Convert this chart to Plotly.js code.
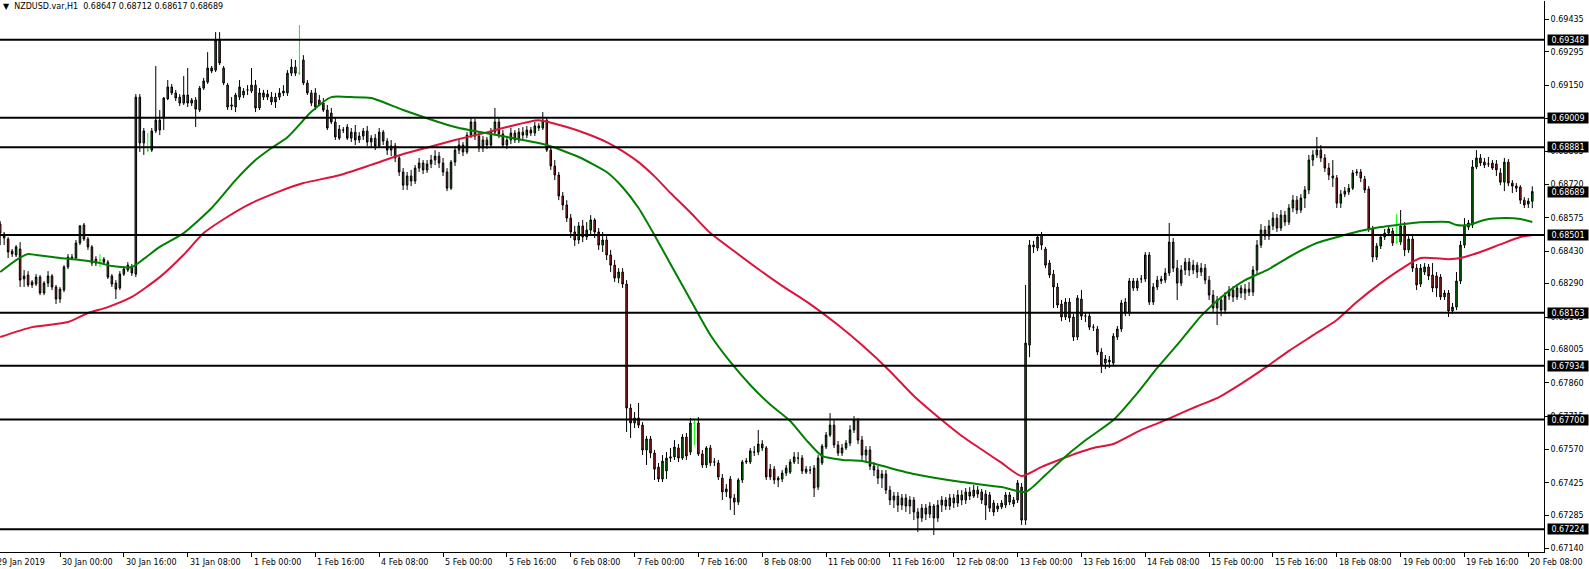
<!DOCTYPE html>
<html><head><meta charset="utf-8">
<script src="https://cdn.plot.ly/plotly-3.0.1.min.js"></script>
<style>html,body{margin:0;padding:0;background:#fff;}#chart{width:1589px;height:569px;}</style>
</head><body><div id="chart"></div>
<script>
// NZDUSD H1 bars, index 0 = 29 Jan 2019 09:00 (weekend hours skipped)
const openP = [
0.68548,0.68505,0.68483,0.68431,0.68414,0.68440,0.68310,0.68327,0.68297,0.68288,
0.68318,0.68249,0.68292,0.68323,0.68275,0.68223,0.68262,0.68362,0.68405,0.68401,
0.68466,0.68544,0.68483,0.68449,0.68396,0.68392,0.68396,0.68383,0.68323,0.68292,
0.68271,0.68331,0.68349,0.68362,0.68331,0.69099,0.68900,0.68869,0.68869,0.68952,
0.68956,0.69008,0.69091,0.69143,0.69117,0.69099,0.69073,0.69108,0.69086,0.69086,
0.69043,0.69138,0.69164,0.69212,0.69216,0.69346,0.69225,0.69151,0.69065,0.69056,
0.69099,0.69108,0.69130,0.69125,0.69151,0.69052,0.69099,0.69099,0.69099,0.69099,
0.69099,0.69117,0.69117,0.69203,0.69229,0.69203,0.69260,0.69160,0.69117,0.69117,
0.69086,0.69073,0.69043,0.69030,0.68991,0.68960,0.68956,0.68969,0.68921,0.68947,
0.68913,0.68930,0.68952,0.68904,0.68921,0.68887,0.68947,0.68908,0.68869,0.68887,
0.68835,0.68774,0.68717,0.68757,0.68735,0.68791,0.68813,0.68783,0.68809,0.68826,
0.68843,0.68813,0.68774,0.68704,0.68817,0.68869,0.68891,0.68861,0.68934,0.68991,
0.68930,0.68878,0.68913,0.68891,0.68947,0.68991,0.68939,0.68891,0.68913,0.68943,
0.68913,0.68947,0.68934,0.68956,0.68943,0.68974,0.68965,0.68999,0.68869,0.68800,
0.68761,0.68670,0.68631,0.68574,0.68514,0.68479,0.68540,0.68492,0.68522,0.68566,
0.68514,0.68457,0.68479,0.68414,0.68370,0.68314,0.68340,0.68288,0.67750,0.67685,
0.67707,0.67676,0.67568,0.67616,0.67555,0.67494,0.67442,0.67477,0.67533,0.67538,
0.67577,0.67533,0.67624,0.67559,0.67685,0.67685,0.67551,0.67503,0.67577,0.67516,
0.67512,0.67446,0.67386,0.67442,0.67360,0.67342,0.67438,0.67516,0.67516,0.67559,
0.67559,0.67594,0.67577,0.67485,0.67485,0.67446,0.67442,0.67468,0.67472,0.67516,
0.67533,0.67533,0.67472,0.67481,0.67490,0.67407,0.67512,0.67581,0.67633,0.67676,
0.67590,0.67555,0.67577,0.67598,0.67655,0.67698,0.67611,0.67546,0.67568,0.67498,
0.67481,0.67446,0.67464,0.67394,0.67351,0.67368,0.67329,0.67360,0.67325,0.67351,
0.67299,0.67273,0.67316,0.67290,0.67325,0.67273,0.67329,0.67351,0.67325,0.67360,
0.67338,0.67373,0.67351,0.67386,0.67368,0.67394,0.67386,0.67377,0.67373,0.67338,
0.67312,0.67321,0.67329,0.67342,0.67351,0.67351,0.67407,0.67264,0.68023,0.68457,
0.68444,0.68501,0.68440,0.68379,0.68331,0.68275,0.68201,0.68145,0.68210,0.68145,
0.68058,0.68223,0.68149,0.68149,0.68101,0.68093,0.67993,0.67945,0.67950,0.67945,
0.68058,0.68093,0.68210,0.68162,0.68271,0.68301,0.68310,0.68310,0.68414,0.68210,
0.68275,0.68301,0.68305,0.68336,0.68470,0.68357,0.68292,0.68349,0.68383,0.68349,
0.68370,0.68340,0.68357,0.68305,0.68240,0.68184,0.68219,0.68175,0.68236,0.68262,
0.68232,0.68271,0.68249,0.68266,0.68253,0.68349,0.68457,0.68522,0.68496,0.68540,
0.68574,0.68531,0.68587,0.68557,0.68618,0.68652,0.68609,0.68661,0.68696,0.68826,
0.68848,0.68869,0.68835,0.68791,0.68757,0.68748,0.68639,0.68678,0.68687,0.68704,
0.68770,0.68774,0.68743,0.68700,0.68527,0.68405,0.68453,0.68492,0.68509,0.68518,
0.68470,0.68470,0.68540,0.68436,0.68483,0.68357,0.68288,0.68340,0.68362,0.68327,
0.68323,0.68318,0.68232,0.68249,0.68171,0.68188,0.68301,0.68457,0.68535,0.68544,
0.68796,0.68835,0.68817,0.68809,0.68813,0.68809,0.68770,0.68730,0.68817,0.68726,
0.68713,0.68709,0.68652,0.68635,0.68647];
const highP = [
0.68561,0.68514,0.68492,0.68440,0.68457,0.68470,0.68349,0.68344,0.68305,0.68331,
0.68327,0.68301,0.68344,0.68331,0.68284,0.68275,0.68370,0.68418,0.68418,0.68479,
0.68544,0.68553,0.68492,0.68457,0.68409,0.68418,0.68405,0.68392,0.68331,0.68305,
0.68344,0.68366,0.68383,0.68375,0.69112,0.69112,0.68965,0.68943,0.68965,0.69234,
0.69043,0.69099,0.69173,0.69156,0.69130,0.69112,0.69190,0.69225,0.69095,0.69099,
0.69147,0.69182,0.69294,0.69234,0.69381,0.69381,0.69234,0.69160,0.69099,0.69117,
0.69173,0.69138,0.69151,0.69225,0.69173,0.69138,0.69130,0.69130,0.69121,0.69117,
0.69138,0.69151,0.69216,0.69264,0.69260,0.69412,0.69281,0.69173,0.69130,0.69138,
0.69108,0.69095,0.69065,0.69052,0.69008,0.68978,0.68969,0.68982,0.68965,0.68978,
0.68947,0.68965,0.68974,0.68934,0.68939,0.68965,0.68956,0.68921,0.68913,0.68900,
0.68848,0.68791,0.68774,0.68783,0.68804,0.68835,0.68826,0.68826,0.68848,0.68869,
0.68861,0.68835,0.68791,0.68826,0.68887,0.68913,0.68904,0.68947,0.69008,0.69004,
0.68947,0.68930,0.68926,0.68965,0.69052,0.69008,0.68956,0.68930,0.68965,0.68956,
0.68965,0.68969,0.68974,0.68969,0.68991,0.68986,0.69034,0.69008,0.68887,0.68826,
0.68774,0.68687,0.68652,0.68592,0.68540,0.68557,0.68566,0.68557,0.68587,0.68574,
0.68531,0.68514,0.68496,0.68436,0.68392,0.68357,0.68357,0.68305,0.67768,0.67733,
0.67772,0.67689,0.67629,0.67629,0.67568,0.67512,0.67546,0.67559,0.67577,0.67611,
0.67594,0.67637,0.67642,0.67707,0.67698,0.67711,0.67568,0.67585,0.67590,0.67533,
0.67525,0.67464,0.67420,0.67455,0.67377,0.67446,0.67525,0.67533,0.67577,0.67585,
0.67655,0.67611,0.67585,0.67507,0.67498,0.67455,0.67481,0.67503,0.67529,0.67559,
0.67559,0.67546,0.67498,0.67498,0.67503,0.67546,0.67594,0.67646,0.67728,0.67698,
0.67607,0.67594,0.67611,0.67676,0.67715,0.67707,0.67629,0.67585,0.67585,0.67516,
0.67498,0.67481,0.67481,0.67412,0.67386,0.67386,0.67377,0.67377,0.67368,0.67364,
0.67316,0.67334,0.67334,0.67342,0.67334,0.67351,0.67368,0.67364,0.67377,0.67377,
0.67394,0.67394,0.67403,0.67407,0.67416,0.67412,0.67399,0.67394,0.67386,0.67351,
0.67338,0.67351,0.67386,0.67386,0.67364,0.67438,0.67425,0.68284,0.68479,0.68475,
0.68505,0.68514,0.68449,0.68392,0.68349,0.68292,0.68219,0.68227,0.68227,0.68158,
0.68240,0.68262,0.68167,0.68162,0.68114,0.68106,0.68010,0.67980,0.67976,0.68075,
0.68106,0.68219,0.68227,0.68314,0.68314,0.68314,0.68327,0.68427,0.68427,0.68292,
0.68323,0.68323,0.68357,0.68553,0.68488,0.68392,0.68370,0.68401,0.68401,0.68392,
0.68383,0.68379,0.68375,0.68323,0.68262,0.68236,0.68236,0.68253,0.68279,0.68279,
0.68288,0.68284,0.68288,0.68297,0.68366,0.68479,0.68548,0.68540,0.68566,0.68600,
0.68592,0.68609,0.68605,0.68635,0.68674,0.68670,0.68678,0.68713,0.68848,0.68869,
0.68926,0.68891,0.68852,0.68813,0.68826,0.68761,0.68696,0.68709,0.68722,0.68783,
0.68787,0.68787,0.68757,0.68713,0.68540,0.68466,0.68505,0.68527,0.68540,0.68531,
0.68592,0.68609,0.68557,0.68496,0.68496,0.68375,0.68375,0.68379,0.68375,0.68379,
0.68340,0.68331,0.68262,0.68262,0.68206,0.68340,0.68475,0.68574,0.68566,0.68826,
0.68869,0.68852,0.68835,0.68839,0.68826,0.68826,0.68791,0.68835,0.68830,0.68739,
0.68726,0.68717,0.68665,0.68661,0.68712];
const lowP = [
0.68457,0.68457,0.68401,0.68405,0.68405,0.68275,0.68275,0.68275,0.68271,0.68279,
0.68240,0.68240,0.68275,0.68262,0.68201,0.68206,0.68253,0.68353,0.68392,0.68396,
0.68457,0.68475,0.68436,0.68366,0.68366,0.68362,0.68370,0.68310,0.68275,0.68223,
0.68262,0.68323,0.68340,0.68323,0.68318,0.68861,0.68848,0.68861,0.68861,0.68943,
0.68934,0.68956,0.69086,0.69108,0.69082,0.69060,0.69065,0.69056,0.69060,0.68969,
0.69034,0.69130,0.69156,0.69203,0.69208,0.69238,0.69151,0.69043,0.69043,0.69034,
0.69086,0.69095,0.69108,0.69117,0.69034,0.69043,0.69086,0.69086,0.69065,0.69052,
0.69086,0.69104,0.69104,0.69190,0.69190,0.69195,0.69151,0.69108,0.69060,0.69043,
0.69060,0.69034,0.68956,0.68982,0.68913,0.68913,0.68943,0.68913,0.68904,0.68891,
0.68900,0.68913,0.68887,0.68878,0.68869,0.68878,0.68891,0.68848,0.68843,0.68817,
0.68757,0.68696,0.68696,0.68713,0.68722,0.68774,0.68765,0.68770,0.68791,0.68804,
0.68791,0.68757,0.68691,0.68696,0.68800,0.68852,0.68843,0.68852,0.68921,0.68913,
0.68861,0.68861,0.68874,0.68878,0.68934,0.68921,0.68878,0.68874,0.68895,0.68900,
0.68900,0.68917,0.68921,0.68930,0.68930,0.68952,0.68956,0.68861,0.68783,0.68739,
0.68652,0.68609,0.68557,0.68488,0.68453,0.68462,0.68470,0.68479,0.68501,0.68488,
0.68436,0.68427,0.68392,0.68340,0.68297,0.68292,0.68271,0.67646,0.67620,0.67663,
0.67663,0.67546,0.67503,0.67533,0.67438,0.67429,0.67429,0.67442,0.67516,0.67525,
0.67516,0.67525,0.67525,0.67546,0.67590,0.67542,0.67490,0.67490,0.67498,0.67498,
0.67438,0.67351,0.67364,0.67308,0.67286,0.67329,0.67425,0.67507,0.67507,0.67542,
0.67546,0.67564,0.67438,0.67438,0.67420,0.67407,0.67429,0.67455,0.67464,0.67507,
0.67507,0.67464,0.67464,0.67464,0.67364,0.67394,0.67503,0.67572,0.67624,0.67577,
0.67542,0.67542,0.67568,0.67585,0.67642,0.67594,0.67525,0.67516,0.67481,0.67455,
0.67420,0.67403,0.67377,0.67329,0.67316,0.67299,0.67308,0.67299,0.67290,0.67264,
0.67212,0.67256,0.67264,0.67273,0.67199,0.67256,0.67299,0.67308,0.67308,0.67316,
0.67321,0.67329,0.67334,0.67351,0.67360,0.67360,0.67334,0.67264,0.67299,0.67282,
0.67299,0.67312,0.67316,0.67329,0.67321,0.67338,0.67243,0.67243,0.67971,0.68423,
0.68431,0.68436,0.68357,0.68314,0.68184,0.68184,0.68127,0.68132,0.68123,0.68041,
0.68045,0.68132,0.68123,0.68088,0.68084,0.67980,0.67902,0.67919,0.67924,0.67932,
0.68045,0.68080,0.68149,0.68149,0.68258,0.68258,0.68292,0.68297,0.68197,0.68197,
0.68262,0.68288,0.68292,0.68323,0.68340,0.68219,0.68279,0.68327,0.68323,0.68331,
0.68314,0.68323,0.68288,0.68219,0.68167,0.68110,0.68149,0.68158,0.68219,0.68210,
0.68219,0.68227,0.68219,0.68236,0.68236,0.68331,0.68444,0.68479,0.68479,0.68522,
0.68514,0.68518,0.68540,0.68544,0.68600,0.68592,0.68596,0.68618,0.68678,0.68800,
0.68835,0.68817,0.68774,0.68739,0.68709,0.68618,0.68618,0.68665,0.68674,0.68696,
0.68757,0.68730,0.68683,0.68514,0.68383,0.68392,0.68440,0.68479,0.68496,0.68453,
0.68462,0.68457,0.68409,0.68423,0.68340,0.68262,0.68275,0.68327,0.68305,0.68253,
0.68232,0.68219,0.68219,0.68145,0.68158,0.68175,0.68288,0.68444,0.68522,0.68531,
0.68787,0.68800,0.68791,0.68796,0.68783,0.68757,0.68717,0.68691,0.68713,0.68683,
0.68687,0.68635,0.68618,0.68618,0.68617];
const closeP = [
0.68509,0.68488,0.68427,0.68418,0.68449,0.68305,0.68323,0.68284,0.68284,0.68318,
0.68249,0.68292,0.68323,0.68275,0.68223,0.68266,0.68362,0.68405,0.68401,0.68466,
0.68540,0.68483,0.68449,0.68379,0.68379,0.68392,0.68383,0.68318,0.68288,0.68266,
0.68331,0.68353,0.68370,0.68336,0.69099,0.68900,0.68952,0.68869,0.68952,0.68999,
0.68999,0.69095,0.69143,0.69117,0.69095,0.69073,0.69108,0.69073,0.69073,0.69047,
0.69138,0.69169,0.69225,0.69225,0.69346,0.69247,0.69160,0.69056,0.69060,0.69108,
0.69143,0.69125,0.69130,0.69151,0.69052,0.69117,0.69117,0.69112,0.69078,0.69078,
0.69117,0.69125,0.69203,0.69229,0.69203,0.69203,0.69160,0.69117,0.69073,0.69056,
0.69065,0.69043,0.68965,0.68991,0.68926,0.68921,0.68956,0.68921,0.68947,0.68913,
0.68930,0.68952,0.68904,0.68921,0.68887,0.68947,0.68908,0.68869,0.68887,0.68835,
0.68774,0.68717,0.68757,0.68735,0.68791,0.68813,0.68783,0.68809,0.68826,0.68843,
0.68813,0.68774,0.68704,0.68817,0.68869,0.68891,0.68861,0.68934,0.68991,0.68930,
0.68878,0.68913,0.68891,0.68947,0.68991,0.68939,0.68891,0.68913,0.68943,0.68913,
0.68947,0.68934,0.68956,0.68943,0.68974,0.68965,0.68999,0.68869,0.68800,0.68761,
0.68670,0.68631,0.68574,0.68514,0.68479,0.68540,0.68492,0.68522,0.68566,0.68514,
0.68457,0.68479,0.68414,0.68370,0.68314,0.68340,0.68288,0.67750,0.67685,0.67707,
0.67676,0.67568,0.67616,0.67555,0.67485,0.67442,0.67520,0.67533,0.67538,0.67581,
0.67533,0.67624,0.67542,0.67685,0.67685,0.67551,0.67503,0.67577,0.67512,0.67516,
0.67451,0.67386,0.67399,0.67360,0.67342,0.67438,0.67516,0.67520,0.67564,0.67559,
0.67594,0.67577,0.67451,0.67451,0.67438,0.67438,0.67468,0.67490,0.67516,0.67538,
0.67533,0.67477,0.67485,0.67481,0.67403,0.67533,0.67585,0.67633,0.67676,0.67590,
0.67555,0.67577,0.67598,0.67655,0.67698,0.67611,0.67546,0.67568,0.67498,0.67481,
0.67446,0.67464,0.67394,0.67351,0.67368,0.67329,0.67360,0.67325,0.67351,0.67299,
0.67273,0.67316,0.67290,0.67325,0.67273,0.67329,0.67351,0.67325,0.67360,0.67338,
0.67373,0.67351,0.67386,0.67368,0.67394,0.67377,0.67351,0.67329,0.67316,0.67299,
0.67325,0.67338,0.67373,0.67373,0.67334,0.67425,0.67264,0.68032,0.68457,0.68449,
0.68492,0.68457,0.68370,0.68327,0.68275,0.68197,0.68145,0.68210,0.68141,0.68058,
0.68227,0.68149,0.68149,0.68101,0.68101,0.67993,0.67937,0.67963,0.67958,0.68062,
0.68093,0.68206,0.68162,0.68301,0.68301,0.68271,0.68310,0.68414,0.68210,0.68275,
0.68305,0.68310,0.68336,0.68470,0.68357,0.68292,0.68349,0.68383,0.68349,0.68370,
0.68340,0.68357,0.68305,0.68240,0.68184,0.68219,0.68175,0.68236,0.68262,0.68232,
0.68271,0.68249,0.68266,0.68253,0.68349,0.68457,0.68522,0.68496,0.68540,0.68574,
0.68531,0.68587,0.68557,0.68618,0.68652,0.68609,0.68661,0.68696,0.68826,0.68848,
0.68869,0.68835,0.68791,0.68761,0.68748,0.68639,0.68678,0.68691,0.68704,0.68770,
0.68774,0.68748,0.68696,0.68527,0.68405,0.68453,0.68492,0.68509,0.68527,0.68466,
0.68470,0.68540,0.68436,0.68483,0.68357,0.68284,0.68357,0.68362,0.68323,0.68271,
0.68271,0.68232,0.68249,0.68171,0.68188,0.68301,0.68457,0.68544,0.68553,0.68796,
0.68835,0.68813,0.68804,0.68809,0.68791,0.68783,0.68730,0.68817,0.68726,0.68713,
0.68704,0.68652,0.68631,0.68648,0.68689];
// bars drawn as lime dojis
const limeBars = [25, 37, 75, 174, 350];

// moving averages (bar index, price)
const maGreenIdx = [0,4,7,9,15,20,25,28,33,36,40,46,53,59,64,68,72,78,83,88,93,101,114,127,137,145,152,156,160,164,168,173,178,183,188,193,198,202,206,211,216,229,241,251,257,262,266,272,279,285,290,296,301,307,312,318,324,330,336,342,346,350,354,358,363,365,368,372,377,381,384];
const maGreenVal = [0.68340,0.68392,0.68418,0.68414,0.68401,0.68392,0.68379,0.68366,0.68362,0.68397,0.68449,0.68509,0.68618,0.68739,0.68826,0.68878,0.68925,0.69035,0.69099,0.69099,0.69095,0.69043,0.68969,0.68926,0.68891,0.68839,0.68774,0.68708,0.68618,0.68500,0.68375,0.68220,0.68067,0.67950,0.67850,0.67765,0.67694,0.67612,0.67542,0.67525,0.67520,0.67464,0.67429,0.67407,0.67386,0.67460,0.67525,0.67610,0.67698,0.67815,0.67924,0.68045,0.68150,0.68245,0.68305,0.68353,0.68415,0.68466,0.68496,0.68522,0.68535,0.68544,0.68553,0.68557,0.68557,0.68544,0.68544,0.68566,0.68574,0.68570,0.68557];
const maRedIdx = [0,8,17,22,27,33,40,46,51,57,63,70,76,85,93,101,108,114,121,127,135,142,147,152,156,160,164,168,173,178,184,190,196,203,210,216,223,229,235,241,246,251,256,261,266,270,274,279,286,291,296,300,305,311,317,323,329,335,340,346,351,356,363,366,371,376,381,384];
const maRedVal = [0.68058,0.68101,0.68123,0.68162,0.68188,0.68232,0.68318,0.68415,0.68509,0.68580,0.68639,0.68690,0.68726,0.68760,0.68805,0.68852,0.68885,0.68913,0.68942,0.68969,0.68999,0.68969,0.68940,0.68904,0.68865,0.68817,0.68755,0.68683,0.68598,0.68509,0.68430,0.68353,0.68280,0.68201,0.68110,0.68023,0.67910,0.67802,0.67712,0.67629,0.67570,0.67512,0.67455,0.67495,0.67529,0.67555,0.67577,0.67594,0.67655,0.67690,0.67728,0.67758,0.67793,0.67855,0.67924,0.67998,0.68065,0.68132,0.68210,0.68292,0.68352,0.68401,0.68396,0.68401,0.68427,0.68460,0.68492,0.68501];

// horizontal levels and labels
const levels = [0.69348, 0.69009, 0.68881, 0.68501, 0.68163, 0.67934, 0.67700, 0.67224];
const lastPrice = 0.68689;
const yTicks = [0.69435,0.69295,0.69150,0.69005,0.68865,0.68720,0.68575,0.68430,0.68290,0.68145,0.68005,0.67860,0.67715,0.67570,0.67425,0.67285,0.67140];
const xTickIdx = [15,31,47,63,79,95,111,127,143,159,175,191,207,223,239,255,271,287,303,319,335,351,367,383];
const xTickText = ['30 Jan 00:00','30 Jan 16:00','31 Jan 08:00','1 Feb 00:00','1 Feb 16:00','4 Feb 08:00','5 Feb 00:00','5 Feb 16:00','6 Feb 08:00','7 Feb 00:00','7 Feb 16:00','8 Feb 08:00','11 Feb 00:00','11 Feb 16:00','12 Feb 08:00','13 Feb 00:00','13 Feb 16:00','14 Feb 08:00','15 Feb 00:00','15 Feb 16:00','18 Feb 08:00','19 Feb 00:00','19 Feb 16:00','20 Feb 08:00'];
const firstLabel = '29 Jan 2019';
const header = 'NZDUSD.var,H1\u00a0\u00a00.68647 0.68712 0.68617 0.68689';

const FONT = 'DejaVu Sans';
const limeSet = new Set(limeBars);
const mainI = [], limeI = [];
for (let i = 0; i < closeP.length; i++) (limeSet.has(i) ? limeI : mainI).push(i);
const pick = (arr, ids) => ids.map(i => arr[i]);

const traces = [
  {type:'candlestick', x: mainI, open: pick(openP, mainI), high: pick(highP, mainI), low: pick(lowP, mainI), close: pick(closeP, mainI),
   increasing:{line:{color:'#000', width:1}, fillcolor:'#008000'},
   decreasing:{line:{color:'#000', width:1}, fillcolor:'#b22222'},
   whiskerwidth:0, hoverinfo:'skip', showlegend:false},
  {type:'candlestick', x: limeI, open: pick(openP, limeI), high: pick(highP, limeI), low: pick(lowP, limeI), close: pick(closeP, limeI),
   increasing:{line:{color:'#00ff00', width:1}, fillcolor:'#00ff00'},
   decreasing:{line:{color:'#00ff00', width:1}, fillcolor:'#00ff00'},
   whiskerwidth:0, hoverinfo:'skip', showlegend:false},
  {type:'scatter', mode:'lines', x: maRedIdx, y: maRedVal, line:{color:'#dc143c', width:2, shape:'spline', smoothing:0.6}, hoverinfo:'skip', showlegend:false},
  {type:'scatter', mode:'lines', x: maGreenIdx, y: maGreenVal, line:{color:'#008000', width:2, shape:'spline', smoothing:0.6}, hoverinfo:'skip', showlegend:false}
];

const shapes = levels.map(v => ({type:'line', xref:'paper', x0:0, x1:1, yref:'y', y0:v, y1:v, line:{color:'#000', width:2}, layer:'above'}));

const annotations = [];
levels.concat([lastPrice]).forEach(v => annotations.push({
  xref:'paper', x:1, xanchor:'left', xshift:3, yref:'y', y:v, yanchor:'middle',
  text: v.toFixed(5), showarrow:false, bgcolor:'#000', width:38, height:8, borderpad:1,
  font:{family:FONT, size:8, color:'#fff'}
}));
xTickIdx.forEach((xi, k) => annotations.push({
  xref:'x', x:xi, xanchor:'left', yref:'paper', y:0, yanchor:'top', yshift:-4,
  text: xTickText[k], showarrow:false, font:{family:FONT, size:8, color:'#000'}
}));
annotations.push({xref:'paper', x:0, xanchor:'left', xshift:-5, yref:'paper', y:0, yanchor:'top', yshift:-4,
  text:firstLabel, showarrow:false, font:{family:FONT, size:8, color:'#000'}});
annotations.push({xref:'paper', x:0, xanchor:'left', xshift:1, yref:'paper', y:1, yanchor:'top', yshift:1,
  text:'\u25bc\u00a0\u00a0' + header, showarrow:false, font:{family:FONT, size:8, color:'#000'}});

const layout = {
  width:1589, height:569, margin:{l:0, r:45, t:1, b:17},
  paper_bgcolor:'#fff', plot_bgcolor:'#fff', showlegend:false, hovermode:false, boxgap:0.45,
  xaxis:{range:[-0.04, 386.93], showgrid:false, zeroline:false, showline:true, linecolor:'#000', linewidth:1,
         ticks:'outside', ticklen:4, tickcolor:'#000', tickvals:xTickIdx, showticklabels:false,
         rangeslider:{visible:false}, fixedrange:true},
  yaxis:{side:'right', range:[0.671255, 0.695159], showgrid:false, zeroline:false, showline:true, linecolor:'#000', linewidth:1,
         ticks:'outside', ticklen:4, tickcolor:'#000', tickvals:yTicks, ticktext:yTicks.map(v => v.toFixed(5)),
         tickfont:{family:FONT, size:8, color:'#000'}, fixedrange:true},
  shapes: shapes, annotations: annotations
};
Plotly.newPlot('chart', traces, layout, {displayModeBar:false, staticPlot:true});
</script></body></html>
